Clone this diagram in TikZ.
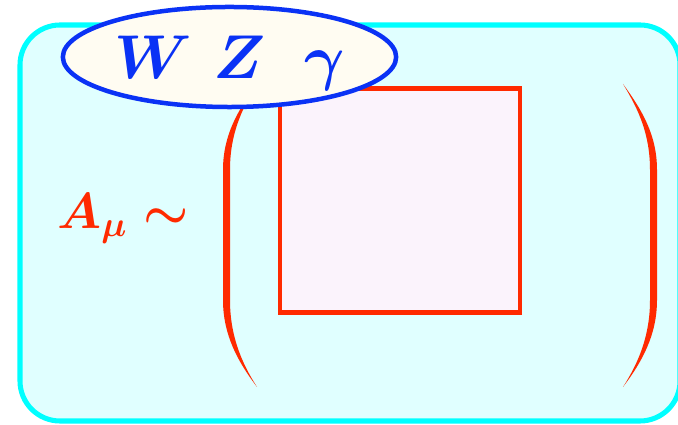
\RequirePackage{fix-cm}
\documentclass[tikz,border=0pt]{standalone}
\usepackage{xcolor}
\usepackage{tikz}
\usetikzlibrary{positioning, shapes.geometric}
\definecolor{skyFrame}{HTML}{00FFFF}
\definecolor{skyFill}{HTML}{E0FFFF}
\definecolor{ivoryOval}{HTML}{FFFCF2}
\definecolor{bosonBlue}{HTML}{0A32F5}
\definecolor{fieldRed}{HTML}{FF2A00}
\definecolor{blobPink}{HTML}{FBF3FC}

\begin{document}
\begin{tikzpicture}[x=0.025cm,y=-0.025cm]
    \tikzset{panel/.style={draw=skyFrame,fill=skyFill,line width=3.6pt,rounded corners=1cm}, ov/.style={ellipse,draw=bosonBlue,fill=ivoryOval,line width=3.2pt,minimum width=8.33cm,minimum height=2.5cm,inner sep=0pt,text=bosonBlue,text depth=0pt,font=\fontsize{44}{50}\selectfont\boldmath}, sq/.style={draw=fieldRed,fill=blobPink,line width=3pt,minimum width=6cm,minimum height=5.6cm}, brk/.style={fill=fieldRed}}
    \useasboundingbox (0,0) rectangle (678,425);
    \draw[panel] (20,25) rectangle (680,421);
    \node[sq] (blob) at (400,200.5) {};
    % round brackets
    \fill[brk] (257,84) .. controls (238,110) and (223,135) .. (223,170) -- (223,300) .. controls (223,335) and (238,362) .. (257,387) .. controls (241,362) and (230,335) .. (230,300) -- (230,170) .. controls (230,135) and (241,110) .. (257,84) -- cycle;
    \fill[brk] (623,84) .. controls (642,110) and (657,135) .. (657,170) -- (657,300) .. controls (657,335) and (642,362) .. (623,387) .. controls (639,362) and (650,335) .. (650,300) -- (650,170) .. controls (650,135) and (639,110) .. (623,84) -- cycle;
    \node[font=\fontsize{36}{40}\selectfont\boldmath,text=fieldRed,anchor=base west,inner sep=0pt] (amu) at (57,229) {$A_\mu\sim$};
    \node[ov] (bos) at (229.5,57) {$W$\hspace{0.35em}$Z$\hspace{0.62em}$\gamma$};
\end{tikzpicture}
\end{document}
